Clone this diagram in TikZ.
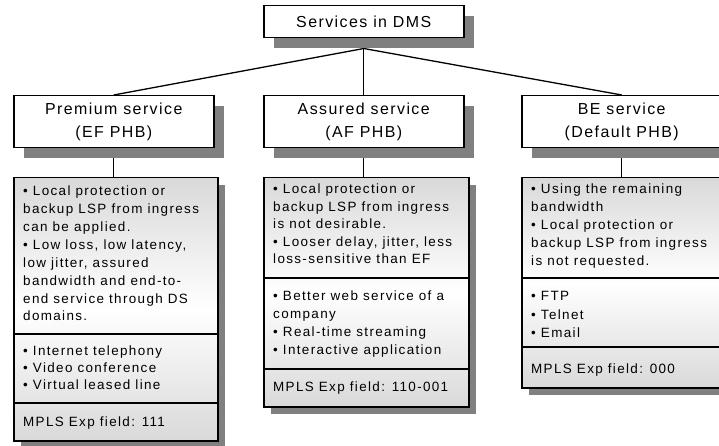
\documentclass[tikz,border=0pt]{standalone}
\usepackage{fontspec}
\setmainfont{Liberation Sans}
\newfontfamily\hdrface[LetterSpace=9]{Liberation Sans}
\newfontfamily\bodyface[LetterSpace=10]{Liberation Sans}
\usetikzlibrary{shadows,backgrounds}
\definecolor{shadowgray}{HTML}{808080}
\definecolor{panelgray}{HTML}{D9D9D9}

\begin{document}
\begin{tikzpicture}[x=1bp,y=-1bp,
  frame/.style={draw=black, line width=1.5bp, inner sep=0pt},
  hdrbox/.style={frame, fill=white, align=center,
    font=\hdrface\fontsize{16}{23}\selectfont,
    drop shadow={shadow xshift=10bp, shadow yshift=-10bp, opacity=1, fill=shadowgray}},
  bodybox/.style={frame, top color=panelgray, bottom color=panelgray, middle color=white,
    drop shadow={shadow xshift=7bp, shadow yshift=-7bp, opacity=1, fill=shadowgray}},
  bodytext/.style={anchor=north west, inner sep=0pt, align=left,
    font=\bodyface\fontsize{13.5}{18}\selectfont},
  rule/.style={line width=1.5bp},
  conn/.style={line width=1.3bp}]
\useasboundingbox (0,0) rectangle (719,446);

% root
\node[hdrbox, minimum width=200bp, minimum height=32bp, anchor=north west] (top) at (263,5) {Services in DMS};

% service classes
\node[hdrbox, minimum width=200bp, minimum height=52bp, anchor=north west] (phdr) at (13,95) {Premium service\\(EF PHB)};
\node[hdrbox, minimum width=200bp, minimum height=52bp, anchor=north west] (ahdr) at (263,95) {Assured service\\(AF PHB)};
\node[hdrbox, minimum width=200bp, minimum height=52bp, anchor=north west] (bhdr) at (521,95) {BE service\\(Default PHB)};

% detail panels
\node[bodybox, minimum width=204bp, minimum height=263bp, anchor=north west] (pbody) at (13,177) {};
\node[bodybox, minimum width=205bp, minimum height=229bp, anchor=north west] (abody) at (263,177) {};
\node[bodybox, minimum width=205bp, minimum height=210bp, anchor=north west] (bbody) at (521,177) {};

% panel dividers
\draw[rule] (pbody.west |- 0,334) -- (pbody.east |- 0,334);
\draw[rule] (pbody.west |- 0,403) -- (pbody.east |- 0,403);
\draw[rule] (abody.west |- 0,278) -- (abody.east |- 0,278);
\draw[rule] (abody.west |- 0,369) -- (abody.east |- 0,369);
\draw[rule] (bbody.west |- 0,278) -- (bbody.east |- 0,278);
\draw[rule] (bbody.west |- 0,347) -- (bbody.east |- 0,347);

% premium panel text
\node[bodytext] (p1) at (23,185.5) {• Local protection or\\backup LSP from ingress\\can be applied.\\• Low loss, low latency,\\low jitter, assured\\bandwidth and end-to-\\end service through DS\\domains.};
\node[bodytext, font=\bodyface\fontsize{13.5}{16.7}\selectfont] (p2) at (23,346) {• Internet telephony\\• Video conference\\• Virtual leased line};
\node[bodytext] (p3) at (23,416.5) {MPLS Exp field: 111};

% assured panel text
\node[bodytext, font=\bodyface\fontsize{13.5}{17.5}\selectfont] (a1) at (273,184) {• Local protection or\\backup LSP from ingress\\is not desirable.\\• Looser delay, jitter, less\\loss-sensitive than EF};
\node[bodytext] (a2) at (273,291) {• Better web service of a\\company\\• Real-time streaming\\• Interactive application};
\node[bodytext] (a3) at (273,381.5) {MPLS Exp field: 110-001};

% best-effort panel text
\node[bodytext, font=\bodyface\fontsize{13.5}{17.9}\selectfont] (b1) at (531,184) {• Using the remaining\\bandwidth\\• Local protection or\\backup LSP from ingress\\is not requested.};
\node[bodytext, font=\bodyface\fontsize{13.5}{18.5}\selectfont] (b2) at (531,291.5) {• FTP\\• Telnet\\• Email};
\node[bodytext] (b3) at (531,363.5) {MPLS Exp field: 000};

% connectors
\begin{scope}[on background layer]
  \coordinate (hub) at ([yshift=-10bp]top.south);
  \draw[conn] (top.south) -- (hub);
  \draw[conn] (hub) -- (phdr.north);
  \draw[conn] (hub) -- (ahdr.north);
  \draw[conn] (hub) -- (bhdr.north);
  \draw[conn] (phdr.south) -- (phdr.south |- pbody.north);
  \draw[conn] (ahdr.south) -- (ahdr.south |- abody.north);
  \draw[conn] (bhdr.south) -- (bhdr.south |- bbody.north);
\end{scope}
\end{tikzpicture}
\end{document}
